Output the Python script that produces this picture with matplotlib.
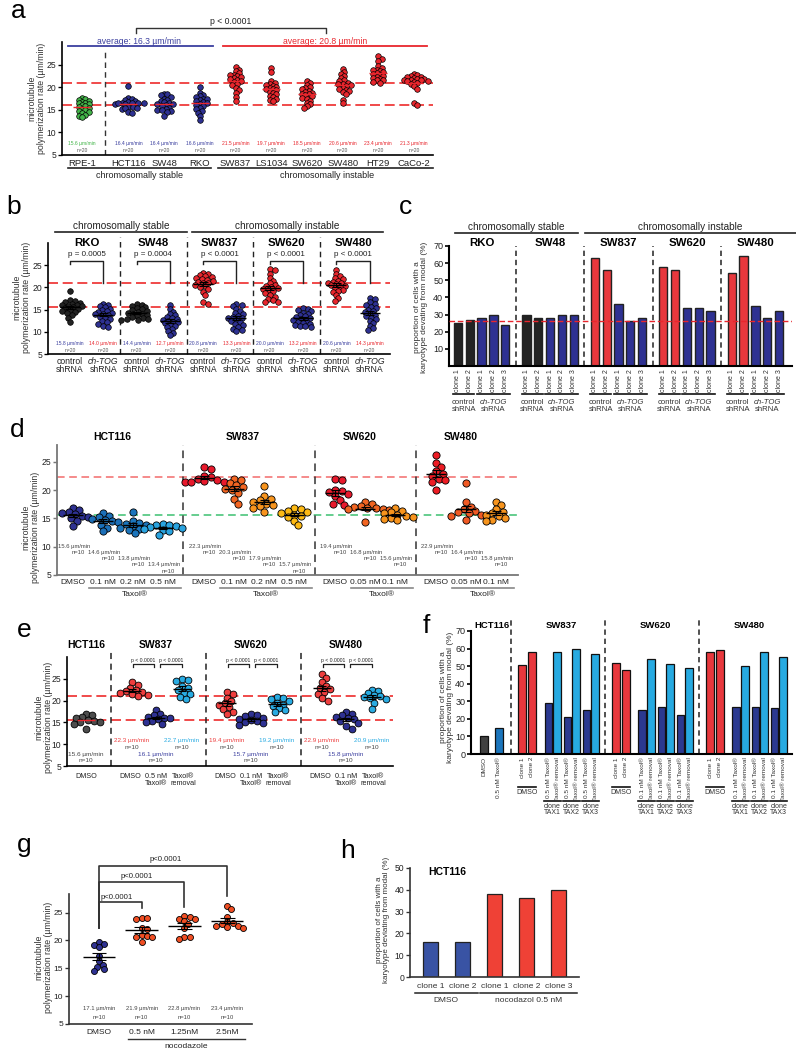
import numpy as np
import matplotlib
matplotlib.use('Agg')
import matplotlib.pyplot as plt
from matplotlib.transforms import Affine2D, blended_transform_factory

plt.rcParams['font.family'] = ['Liberation Sans', 'DejaVu Sans']

# ======================= DATA =======================
# panel a
a_lines = ['RPE-1', 'HCT116', 'SW48', 'RKO', 'SW837', 'LS1034', 'SW620', 'SW480', 'HT29', 'CaCo-2']
a_means = [15.6, 16.4, 16.4, 16.6, 21.5, 19.7, 18.5, 20.6, 23.4, 21.3]
a_rpe1 = [17.7, 17.4, 17.2, 17.0, 16.8, 16.6, 16.4, 16.2, 16.0, 15.8, 15.6, 15.4, 15.2, 15.0, 14.8, 14.5, 14.2, 13.9, 13.6, 13.3]
a_hct116 = [20.2, 17.6, 17.3, 17.1, 16.9, 16.8, 16.6, 16.5, 16.4, 16.3, 16.2, 16.5, 16.4, 15.7, 15.6, 15.4, 15.2, 15.5, 14.6, 14.3]
a_sw48 = [18.6, 18.4, 18.2, 17.9, 17.5, 17.2, 16.9, 16.7, 16.5, 16.3, 16.2, 16.0, 15.8, 15.5, 15.2, 14.9, 15.0, 14.8, 14.5, 13.7]
a_rko = [20.0, 18.8, 18.3, 18.0, 17.8, 17.5, 17.3, 17.1, 16.9, 16.7, 16.5, 16.3, 16.1, 15.8, 15.5, 15.2, 14.8, 14.3, 13.6, 12.7]
a_sw837 = [24.4, 23.9, 23.5, 23.1, 22.8, 22.6, 22.4, 22.2, 22.0, 21.8, 21.6, 21.4, 21.1, 20.8, 20.4, 19.9, 19.3, 18.7, 17.8, 16.9]
a_ls1034 = [24.2, 23.3, 21.4, 21.0, 20.7, 20.5, 20.3, 20.1, 19.9, 19.7, 19.5, 19.3, 19.0, 18.7, 18.4, 18.1, 17.8, 17.5, 17.2, 17.0]
a_sw620 = [21.3, 20.9, 20.5, 20.1, 19.8, 19.5, 19.2, 19.0, 18.8, 18.6, 18.4, 18.2, 18.0, 17.7, 17.4, 17.0, 16.6, 16.2, 15.8, 15.5]
a_sw480 = [24.0, 23.3, 22.9, 22.4, 22.0, 21.6, 21.3, 21.0, 20.8, 20.6, 20.4, 20.2, 19.9, 19.6, 19.4, 19.2, 19.0, 18.6, 17.2, 16.4]
a_ht29 = [26.8, 26.2, 25.9, 24.6, 24.2, 23.9, 23.7, 23.5, 23.3, 23.1, 22.9, 22.7, 22.5, 22.3, 22.1, 21.9, 21.7, 21.5, 21.2, 20.9]
a_caco2 = [22.9, 22.7, 22.5, 22.3, 22.2, 22.0, 21.9, 21.8, 21.7, 21.6, 21.5, 21.4, 21.3, 21.1, 20.9, 20.6, 20.2, 19.6, 16.4, 16.1]

# panel b
b_titles = ['RKO', 'SW48', 'SW837', 'SW620', 'SW480']
b_pvals = ['p = 0.0005', 'p = 0.0004', 'p < 0.0001', 'p < 0.0001', 'p < 0.0001']
b_means = [15.8, 14.0, 14.4, 12.7, 20.8, 13.3, 20.0, 13.2, 20.6, 14.3]
b_rko_ctrl = [19.3, 17.1, 16.9, 16.7, 16.5, 16.3, 16.1, 16.0, 15.8, 15.7, 15.5, 15.3, 15.1, 14.9, 14.7, 14.5, 14.2, 13.8, 13.2, 12.2]
b_rko_tog = [16.3, 16.1, 15.8, 15.5, 15.2, 15.0, 14.7, 14.5, 14.3, 14.1, 13.9, 13.7, 13.4, 13.1, 12.8, 12.5, 12.2, 11.8, 11.4, 11.0]
b_sw48_ctrl = [16.3, 16.1, 15.9, 15.6, 15.3, 15.1, 14.9, 14.7, 14.5, 14.3, 14.1, 13.9, 13.7, 13.5, 13.3, 13.1, 12.9, 12.8, 12.7, 12.6]
b_sw48_tog = [16.0, 15.1, 14.5, 14.0, 13.7, 13.4, 13.1, 12.9, 12.7, 12.5, 12.3, 12.1, 11.9, 11.6, 11.3, 11.0, 10.6, 10.1, 9.8, 9.3]
b_sw837_ctrl = [23.3, 23.0, 22.7, 22.5, 22.3, 22.1, 21.9, 21.7, 21.5, 21.3, 21.1, 20.9, 20.6, 20.3, 20.0, 19.6, 19.0, 18.2, 16.6, 16.2]
b_sw837_tog = [16.3, 16.1, 15.8, 15.2, 14.6, 14.2, 13.9, 13.6, 13.4, 13.2, 13.0, 12.7, 12.4, 12.1, 11.8, 11.5, 11.1, 10.7, 10.4, 10.1]
b_sw620_ctrl = [24.2, 24.0, 23.1, 22.1, 21.5, 21.0, 20.6, 20.3, 20.1, 19.9, 19.7, 19.4, 19.1, 18.7, 18.3, 17.9, 17.5, 17.1, 16.8, 16.7]
b_sw620_tog = [15.3, 15.1, 14.9, 14.6, 14.3, 14.0, 13.8, 13.5, 13.3, 13.1, 12.9, 12.7, 12.5, 12.3, 12.0, 11.8, 11.6, 11.4, 11.2, 11.0]
b_sw480_ctrl = [24.0, 23.0, 22.5, 22.1, 21.8, 21.5, 21.3, 21.1, 20.9, 20.7, 20.5, 20.3, 20.1, 19.8, 19.5, 19.2, 18.9, 18.4, 17.6, 16.9]
b_sw480_tog = [17.7, 17.3, 16.7, 16.3, 16.0, 15.6, 15.3, 15.0, 14.7, 14.4, 14.1, 13.8, 13.5, 13.2, 12.8, 12.4, 11.9, 11.4, 10.9, 10.5]

# panel c
c_titles = ['RKO', 'SW48', 'SW837', 'SW620', 'SW480']
c_control = [[25, 27], [30, 28], [63, 56], [58, 56], [54, 64]]
c_chtog = [[28, 30, 24], [28, 30, 30], [36, 26, 28], [34, 34, 32], [35, 28, 32]]

# panel d
d_titles = ['HCT116', 'SW837', 'SW620', 'SW480']
d_conds = [['DMSO', '0.1 nM', '0.2 nM', '0.5 nM'], ['DMSO', '0.1 nM', '0.2 nM', '0.5 nM'],
           ['DMSO', '0.05 nM', '0.1 nM'], ['DMSO', '0.05 nM', '0.1 nM']]
d_means = [[15.6, 14.6, 13.8, 13.4], [22.3, 20.3, 17.9, 15.7], [19.4, 16.8, 15.6], [22.9, 16.4, 15.8]]
d_hct116 = [[16.9, 16.5, 16.2, 16.0, 15.8, 15.5, 15.3, 15.1, 14.6, 13.7],
            [16.0, 15.5, 15.2, 14.9, 14.7, 14.5, 14.3, 13.9, 13.4, 12.7],
            [16.2, 14.6, 14.2, 14.0, 13.8, 13.6, 13.4, 13.2, 12.9, 12.5],
            [14.0, 13.9, 13.8, 13.6, 13.5, 13.4, 13.2, 13.0, 12.8, 12.1]]
d_sw837 = [[24.1, 23.7, 22.6, 22.3, 22.0, 21.8, 21.6, 21.4, 21.4, 21.4],
           [22.0, 21.8, 21.2, 20.9, 20.6, 20.3, 20.1, 19.5, 18.5, 17.6],
           [20.7, 18.9, 18.5, 18.2, 17.9, 17.6, 17.4, 17.2, 16.9, 16.1],
           [16.8, 16.6, 16.4, 16.1, 16.0, 15.7, 15.5, 15.3, 14.5, 13.8]]
d_sw620 = [[22.0, 21.8, 20.1, 19.8, 19.6, 19.3, 19.0, 18.2, 17.6, 17.3],
           [17.9, 17.6, 17.2, 17.0, 16.9, 16.8, 16.7, 16.6, 16.5, 14.4],
           [16.8, 16.4, 16.1, 15.9, 15.7, 15.5, 15.3, 15.1, 14.9, 14.7]]
d_sw480 = [[26.3, 24.8, 24.1, 23.4, 22.8, 22.6, 22.0, 21.8, 21.4, 20.1],
           [21.3, 17.9, 17.0, 16.6, 16.3, 16.1, 15.9, 15.7, 15.5, 14.7],
           [18.0, 17.3, 16.6, 16.2, 15.9, 15.7, 15.4, 15.1, 14.8, 14.5]]

# panel e
e_titles = ['HCT116', 'SW837', 'SW620', 'SW480']
e_hct116_dmso = [17.0, 16.6, 16.2, 15.9, 15.6, 15.4, 15.2, 15.0, 14.6, 13.6]
e_sw837 = [[24.2, 23.6, 23.0, 22.4, 22.1, 21.9, 21.7, 21.5, 21.2, 21.0],
           [17.8, 17.0, 16.6, 16.3, 16.1, 15.9, 15.7, 15.4, 15.1, 14.6],
           [25.0, 24.8, 24.5, 23.4, 22.8, 22.4, 21.8, 21.4, 20.9, 20.3]]
e_sw620 = [[22.0, 21.6, 20.6, 19.8, 19.4, 19.1, 18.6, 18.0, 17.5, 17.0],
           [16.9, 16.6, 16.4, 16.1, 15.8, 15.5, 15.3, 15.0, 14.8, 14.5],
           [20.8, 20.6, 20.3, 19.9, 19.5, 19.1, 18.7, 18.2, 17.8, 17.3]]
e_sw480 = [[26.2, 25.1, 24.2, 23.4, 23.0, 22.6, 22.0, 21.4, 20.5, 19.9],
           [17.4, 16.9, 16.6, 16.3, 16.0, 15.7, 15.4, 14.9, 14.2, 13.5],
           [22.5, 22.2, 21.7, 21.3, 21.0, 20.8, 20.5, 20.3, 19.5, 18.1]]
e_means = [[22.3, 16.1, 22.7], [19.4, 15.7, 19.2], [22.9, 15.8, 20.9]]
e_doses = ['0.5 nM', '0.1 nM', '0.1 nM']

# panel f
f_titles = ['HCT116', 'SW837', 'SW620', 'SW480']
f_hct116 = [10, 15]
f_clones = [[50.5, 58], [52, 48], [58, 59]]
f_taxol = [[29, 21, 25], [25, 27, 22], [27, 27, 26]]
f_removal = [[58, 59.5, 57], [54, 51, 49], [50, 58, 55]]
f_doses = ['0.5 nM', '0.1 nM', '0.1 nM']

# panel g
g_conds = ['DMSO', '0.5 nM', '1.25nM', '2.5nM']
g_means = [17.1, 21.9, 22.8, 23.4]
g_dmso = [19.7, 19.3, 19.2, 18.8, 17.3, 16.3, 15.6, 15.3, 14.8, 14.6]
g_05 = [24.1, 24.0, 23.9, 22.2, 22.0, 21.0, 20.8, 20.7, 20.6, 19.7]
g_125 = [24.4, 24.2, 23.9, 23.8, 23.5, 22.9, 22.3, 20.7, 20.6, 20.2]
g_25 = [26.2, 25.6, 24.3, 23.3, 23.1, 23.0, 22.6, 22.6, 22.4, 22.3]

# panel h
h_labels = ['clone 1', 'clone 2', 'clone 1', 'clone 2', 'clone 3']
h_values = [16, 16, 38, 36, 40]

# ======================= STYLE =======================
GREEN = '#43b549'
NAVY = '#2e3192'
RED = '#e8262d'
BLK = '#232323'
TXTBLUE = '#3b3f9f'
GREYTXT = '#444444'
UM = 'µm/min'

W, H = 796, 1050
fig = plt.figure(figsize=(W / 100, H / 100), dpi=100)
PX = Affine2D().scale(1, -1).translate(0, H)


def add_ax(x0, y0, x1, y1):
    return fig.add_axes([x0 / W, 1 - y1 / H, (x1 - x0) / W, (y1 - y0) / H])


def bt(ax):
    return blended_transform_factory(ax.transData, PX)


def style(ax, ticks, lw=1.1, color='black', labelsize=6.2):
    for s in ('top', 'right'):
        ax.spines[s].set_visible(False)
    for s in ('left', 'bottom'):
        ax.spines[s].set_linewidth(lw)
        ax.spines[s].set_color(color)
    ax.set_xticks([])
    ax.set_yticks(ticks)
    ax.tick_params(axis='y', length=3, width=lw * 0.8, color=color, labelsize=labelsize,
                   pad=1.2, labelcolor='#222')
    ax.patch.set_alpha(0)


def swarm(ax, xc, vals, color, d_px, elw=0.6, overlap=0.78):
    vals = np.asarray(vals, float)
    T = ax.transData
    placed = []
    xs = np.full(len(vals), float(xc))
    step = d_px * 0.3
    for i in np.argsort(vals)[::-1]:
        px, py = T.transform((xc, vals[i]))
        k = 0
        while True:
            off = ((k + 1) // 2) * step * (1 if k % 2 else -1)
            if all((px + off - qx) ** 2 + (py - qy) ** 2 >= (overlap * d_px) ** 2 for qx, qy in placed):
                break
            k += 1
        placed.append((px + off, py))
        xs[i] = T.inverted().transform((px + off, py))[0]
    ax.scatter(xs, vals, s=(d_px * 0.72) ** 2, c=color, edgecolors='black', linewidths=elw,
               zorder=3, clip_on=False)


def mean_sem(ax, xc, vals, hw, color='black', lw=1.0, sem=True):
    v = np.asarray(vals, float)
    m = v.mean()
    se = v.std(ddof=1) / np.sqrt(len(v))
    ax.hlines(m, xc - hw, xc + hw, colors=color, lw=lw, zorder=5)
    if sem:
        ax.hlines([m - se, m + se], xc - hw * 0.45, xc + hw * 0.45, colors=color, lw=lw * 0.8, zorder=5)
        ax.vlines(xc, m - se, m + se, colors=color, lw=lw * 0.8, zorder=5)


def ptext(x, y, s, **kw):
    fig.text(x, y, s, transform=PX, **kw)


def letter(x, y, s):
    ptext(x, y, s, fontsize=19, va='baseline', ha='left')


# ======================= PANEL a =======================
letter(11, 18, 'a')
axa = add_ax(62, 42, 433, 155)
a_x = np.arange(10) + 0.3 * (np.arange(10) >= 1)
axa.set_xlim(-0.56, 9.83)
axa.set_ylim(5, 30)
style(axa, [5, 10, 15, 20, 25], lw=1.2)
for y in (21, 16.1):
    axa.axhline(y, color='#ee2b2b', lw=1.2, dashes=(6, 2.8), zorder=2)
axa.vlines(0.65, 5, 28, colors='#333', lw=1.0, linestyles=(0, (4, 3)))
a_groups = [a_rpe1, a_hct116, a_sw48, a_rko, a_sw837, a_ls1034, a_sw620, a_sw480, a_ht29, a_caco2]
a_cols = [GREEN] + [NAVY] * 3 + [RED] * 6
a_tcols = [GREEN] + [TXTBLUE] * 3 + [RED] * 6
for x, v, c, tc, m, name in zip(a_x, a_groups, a_cols, a_tcols, a_means, a_lines):
    swarm(axa, x, v, c, 5.6, elw=0.5, overlap=0.62)
    mean_sem(axa, x, v, 0.25, color='#e8262d', lw=1.0, sem=False)
    axa.text(x, 7.6, f'{m} {UM}', color=tc, fontsize=3.6, ha='center', va='center')
    axa.text(x, 6.0, 'n=20', color='#555', fontsize=3.6, ha='center', va='center')
    axa.text(x, 163, name, transform=bt(axa), fontsize=6.8, ha='center', va='center', color='#222')
T = bt(axa)
axa.plot([-0.39, 3.61], [168, 168], transform=T, clip_on=False, color='#222', lw=1.2)
axa.plot([3.81, 9.83], [168, 168], transform=T, clip_on=False, color='#222', lw=1.2)
axa.text(1.6, 176, 'chromosomally stable', transform=T, fontsize=6.5, ha='center', va='center', color='#222')
axa.text(6.85, 176, 'chromosomally instable', transform=T, fontsize=6.5, ha='center', va='center', color='#222')
axa.plot([-0.39, 3.67], [46, 46], transform=T, clip_on=False, color='#3b3f9f', lw=1.3)
axa.plot([3.95, 9.66], [46, 46], transform=T, clip_on=False, color='#e8262d', lw=1.3)
axa.text(1.6, 41, f'average: 16.3 {UM}', transform=T, fontsize=6.2, ha='center', va='center', color='#3b3f9f')
axa.text(6.8, 41, f'average: 20.8 {UM}', transform=T, fontsize=6.2, ha='center', va='center', color='#e8262d')
axa.plot([1.51, 1.51, 6.83, 6.83], [33, 28, 28, 33], transform=T, clip_on=False, color='#333', lw=1.0)
axa.text(4.17, 22, 'p < 0.0001', transform=T, fontsize=6.2, ha='center', va='center', color='#222')
ptext(37, 98, 'microtubule\npolymerization rate (µm/min)', rotation=90, ha='center', va='center',
      fontsize=6.3, color='#333', linespacing=1.05)

# ======================= PANEL b =======================
letter(6, 214, 'b')
axb = add_ax(48, 243, 390, 354)
axb.set_xlim(-0.66, 9.61)
axb.set_ylim(5, 30)
style(axb, [5, 10, 15, 20, 25], lw=1.2)
for y in (21, 15.5):
    axb.axhline(y, color='#ee2b2b', lw=1.2, dashes=(6, 2.8), zorder=2)
b_groups = [b_rko_ctrl, b_rko_tog, b_sw48_ctrl, b_sw48_tog, b_sw837_ctrl, b_sw837_tog,
            b_sw620_ctrl, b_sw620_tog, b_sw480_ctrl, b_sw480_tog]
b_cols = [BLK, NAVY, BLK, NAVY, RED, NAVY, RED, NAVY, RED, NAVY]
Tb = bt(axb)
for i, (v, c, m) in enumerate(zip(b_groups, b_cols, b_means)):
    swarm(axb, i, v, c, 5.6, elw=0.5, overlap=0.68)
    mean_sem(axb, i, v, 0.3, color='black', lw=1.0)
    axb.text(i, 7.4, f'{m} {UM}', color=(TXTBLUE if i % 2 == 0 else RED), fontsize=3.6,
             ha='center', va='center')
    axb.text(i, 5.8, 'n=20', color='#555', fontsize=3.6, ha='center', va='center')
    if i % 2 == 0:
        axb.text(i, 361, 'control', transform=Tb, fontsize=6.2, ha='center', va='center', color='#222')
    else:
        axb.text(i, 361, 'ch-TOG', transform=Tb, fontsize=6.2, ha='center', va='center', color='#222',
                 style='italic')
    axb.text(i, 370, 'shRNA', transform=Tb, fontsize=6.2, ha='center', va='center', color='#222')
for k, (t, p) in enumerate(zip(b_titles, b_pvals)):
    c0 = 2 * k
    axb.text(c0 + 0.5, 243, t, transform=Tb, fontsize=8.2, fontweight='bold', ha='center', va='center')
    axb.text(c0 + 0.5, 255, p, transform=Tb, fontsize=5.8, ha='center', va='center', color='#222')
    axb.plot([c0, c0, c0 + 1, c0 + 1], [25.2, 25.9, 25.9, 21.0], color='#222', lw=1.0, clip_on=False)
    if k > 0:
        axb.plot([c0 - 0.5, c0 - 0.5], [5, 31.4], color='#222', lw=1.0, ls=(0, (4, 3)), clip_on=False)
axb.plot([-0.45, 3.51], [232, 232], transform=Tb, clip_on=False, color='#222', lw=1.2)
axb.plot([3.66, 9.4], [232, 232], transform=Tb, clip_on=False, color='#222', lw=1.2)
axb.text(1.53, 226, 'chromosomally stable', transform=Tb, fontsize=7.2, ha='center', va='center', color='#222')
axb.text(6.53, 226, 'chromosomally instable', transform=Tb, fontsize=7.2, ha='center', va='center', color='#222')
ptext(22, 297, 'microtubule\npolymerization rate (µm/min)', rotation=90, ha='center', va='center',
      fontsize=6.3, color='#333', linespacing=1.05)

# ======================= PANEL c =======================
letter(399, 214, 'c')
axc = add_ax(449, 246, 792, 366)
axc.set_xlim(-0.76, 28.3)
axc.set_ylim(0, 70)
style(axc, [10, 20, 30, 40, 50, 60, 70], lw=1.5, labelsize=6.5)
Tc = bt(axc)
for k in range(5):
    g = k * 5.8
    xs_ctrl = g + np.arange(2)
    xs_tog = g + 2 + np.arange(3)
    axc.bar(xs_ctrl, c_control[k], width=0.7, color=(BLK if k < 2 else '#e8383d'), edgecolor='#222',
            lw=1.0, zorder=2)
    axc.bar(xs_tog, c_chtog[k], width=0.7, color=NAVY, edgecolor='#222', lw=1.0, zorder=2)
    for x, lab in zip(list(xs_ctrl) + list(xs_tog), ['clone 1', 'clone 2', 'clone 1', 'clone 2', 'clone 3']):
        axc.text(x, 369, lab, transform=Tc, rotation=90, fontsize=5.0, ha='center', va='top', color='#333')
    axc.plot([g - 0.4, g + 1.4], [394, 394], transform=Tc, clip_on=False, color='#111', lw=1.2)
    axc.plot([g + 1.6, g + 4.4], [394, 394], transform=Tc, clip_on=False, color='#111', lw=1.2)
    axc.text(g + 0.5, 402, 'control', transform=Tc, fontsize=5.6, ha='center', va='center', color='#333')
    axc.text(g + 0.5, 409.5, 'shRNA', transform=Tc, fontsize=5.6, ha='center', va='center', color='#333')
    axc.text(g + 3, 402, 'ch-TOG', transform=Tc, fontsize=5.6, ha='center', va='center', color='#333',
             style='italic')
    axc.text(g + 3, 409.5, 'shRNA', transform=Tc, fontsize=5.6, ha='center', va='center', color='#333')
    axc.text(g + 2, 243, c_titles[k], transform=Tc, fontsize=8.2, fontweight='bold', ha='center', va='center')
    if k > 0:
        axc.plot([g - 0.9, g - 0.9], [0, 70], color='#222', lw=1.1, ls=(0, (3.5, 2.5)), clip_on=False)
axc.axhline(26, color='#e8262d', lw=1.0, dashes=(4, 2), zorder=3)
axc.plot([-0.25, 10.2], [233, 233], transform=Tc, clip_on=False, color='#222', lw=1.2)
axc.plot([10.8, 28.6], [233, 233], transform=Tc, clip_on=False, color='#222', lw=1.2)
axc.text(4.97, 227, 'chromosomally stable', transform=Tc, fontsize=7.2, ha='center', va='center', color='#222')
axc.text(19.7, 227, 'chromosomally instable', transform=Tc, fontsize=7.2, ha='center', va='center', color='#222')
ptext(421, 307, 'proportion of cells with a\nkaryotype devating from modal (%)', rotation=90, ha='center',
      va='center', fontsize=6.0, color='#333', linespacing=1.05)

# ======================= PANEL d =======================
letter(10, 437, 'd')
axd = add_ax(57, 445, 518, 575)
axd.set_xlim(-0.53, 14.83)
axd.set_ylim(5, 28)
style(axd, [5, 10, 15, 20, 25], lw=1.3, color='#777', labelsize=6.2)
axd.axhline(22.3, color='#f26b6b', lw=1.1, dashes=(5, 3), zorder=2)
axd.axhline(15.6, color='#3cc070', lw=1.1, dashes=(5, 3), zorder=2)
Td = bt(axd)
d_vals = [d_hct116, d_sw837, d_sw620, d_sw480]
d_cols = [[NAVY, '#1b6fb8', '#1b75bc', '#29a3df'],
          ['#e8192c', '#f26522', '#f7941d', '#fdb913'],
          ['#e8192c', '#f26522', '#f7941d'],
          ['#ed1c24', '#f15a24', '#f7941d']]
start = 0.0
for k in range(4):
    n = len(d_conds[k])
    xs = start + np.arange(n)
    for i in range(n):
        swarm(axd, xs[i], d_vals[k][i], d_cols[k][i], 7.2, elw=0.6)
        mean_sem(axd, xs[i], d_vals[k][i], 0.33, color='black', lw=1.0)
        axd.text(xs[i] + 0.03, 10.1 - 1.1 * i, f'{d_means[k][i]} {UM}', fontsize=4.2, ha='center',
                 va='center', color=GREYTXT)
        axd.text(xs[i] + 0.17, 9.0 - 1.1 * i, 'n=10', fontsize=4.2, ha='center', va='center', color=GREYTXT)
        axd.text(xs[i], 582, d_conds[k][i], transform=Td, fontsize=6.0, ha='center', va='center', color='#222')
    axd.plot([xs[1] - 0.47, xs[-1] + 0.6], [588, 588], transform=Td, clip_on=False, color='#888', lw=1.2)
    axd.text((xs[1] + xs[-1]) / 2 + 0.05, 594, 'Taxol®', transform=Td, fontsize=6.0, ha='center',
             va='center', color='#222')
    axd.text(xs.mean() - 0.2, 437, d_titles[k], transform=Td, fontsize=7.5, fontweight='bold',
             ha='center', va='center')
    if k < 3:
        axd.plot([xs[-1] + 0.68] * 2, [5, 28], color='#333', lw=1.1, ls=(0, (5, 3.5)), clip_on=False)
    start = xs[-1] + 1.37
ptext(31, 527, 'microtubule\npolymerization rate (µm/min)', rotation=90, ha='center', va='center',
      fontsize=6.3, color='#333', linespacing=1.05)

# ======================= PANEL e =======================
letter(17, 637, 'e')
axe = add_ax(67, 657, 393, 766)
axe.set_xlim(-0.76, 12.28)
axe.set_ylim(5, 30)
style(axe, [5, 10, 15, 20, 25], lw=1.2)
for y in (21, 15.6):
    axe.axhline(y, color='#ee2b2b', lw=1.2, dashes=(6, 2.8), zorder=2)
Te = bt(axe)
swarm(axe, 0, e_hct116_dmso, '#4d4d4d', 6.8)
mean_sem(axe, 0, e_hct116_dmso, 0.35, color='#e8262d', lw=1.0, sem=False)
axe.text(0, 7.6, f'15.6 {UM}', fontsize=4.6, ha='center', va='center', color=GREYTXT)
axe.text(0, 6.2, 'n=10', fontsize=4.6, ha='center', va='center', color=GREYTXT)
axe.text(0, 777, 'DMSO', transform=Te, fontsize=5.2, ha='center', va='center', color='#222')
axe.text(0, 645, e_titles[0], transform=Te, fontsize=7.5, fontweight='bold', ha='center', va='center')
e_vals = [e_sw837, e_sw620, e_sw480]
e_cols = ['#ee3e3e', NAVY, '#29abe2']
e_tcols = ['#ee3e3e', TXTBLUE, '#29abe2']
for k in range(3):
    s0 = 1.84 + 3.8 * k
    xs = s0 + np.array([0, 0.95, 2.0])
    for i in range(3):
        swarm(axe, xs[i], e_vals[k][i], e_cols[i], 6.8)
        mean_sem(axe, xs[i], e_vals[k][i], 0.35, color='black', lw=1.0)
        ym = 10.8 if i != 1 else 7.6
        axe.text(xs[i], ym, f'{e_means[k][i]} {UM}', fontsize=4.6, ha='center', va='center', color=e_tcols[i])
        axe.text(xs[i], ym - 1.45, 'n=10', fontsize=4.6, ha='center', va='center', color=GREYTXT)
    axe.text(xs[0] - 0.08, 777, 'DMSO', transform=Te, fontsize=5.2, ha='center', va='center', color='#222')
    axe.text(xs[1] + 0.02, 777, e_doses[k], transform=Te, fontsize=5.2, ha='center', va='center', color='#222')
    axe.text(xs[1] + 0.02, 783.5, 'Taxol®', transform=Te, fontsize=5.2, ha='center', va='center', color='#222')
    axe.text(xs[2] + 0.05, 777, 'Taxol®', transform=Te, fontsize=5.2, ha='center', va='center', color='#222')
    axe.text(xs[2] + 0.05, 783.5, 'removal', transform=Te, fontsize=5.2, ha='center', va='center', color='#222')
    axe.plot([xs[0] + 0.05, xs[0] + 0.05, xs[1] - 0.08, xs[1] - 0.08], [27.6, 28.3, 28.3, 27.6],
             color='#222', lw=0.9, clip_on=False)
    axe.plot([xs[1] + 0.18, xs[1] + 0.18, xs[2], xs[2]], [27.6, 28.3, 28.3, 27.6],
             color='#222', lw=0.9, clip_on=False)
    axe.text((xs[0] + xs[1]) / 2 - 0.02, 29.3, 'p < 0.0001', fontsize=3.7, ha='center', va='center',
             color='#222')
    axe.text((xs[1] + xs[2]) / 2 + 0.1, 29.3, 'p < 0.0001', fontsize=3.7, ha='center', va='center',
             color='#222')
    axe.plot([s0 - 0.85] * 2, [5, 31.6], color='#222', lw=1.1, ls=(0, (4, 3)), clip_on=False)
    axe.text(xs[1], 645, e_titles[k + 1], transform=Te, fontsize=7.5, fontweight='bold', ha='center',
             va='center')
ptext(44, 717, 'microtubule\npolymerization rate (µm/min)', rotation=90, ha='center', va='center',
      fontsize=6.3, color='#333', linespacing=1.05)

# ======================= PANEL f =======================
letter(423, 633, 'f')
axf = add_ax(471, 631, 792, 754)
axf.set_xlim(-1.4, 33.1)
axf.set_ylim(0, 70)
style(axf, [0, 10, 20, 30, 40, 50, 60, 70], lw=1.5, labelsize=6.5)
Tf = bt(axf)
axf.bar([0, 1.6], f_hct116, width=0.8, color=['#404040', '#1b75bc'], edgecolor='#111', lw=0.9, zorder=2)
axf.text(0, 757, 'DMSO', transform=Tf, rotation=90, fontsize=4.6, ha='center', va='top', color='#333')
axf.text(1.6, 757, '0.5 nM Taxol®', transform=Tf, rotation=90, fontsize=4.6, ha='center', va='top',
         color='#333')
axf.text(0.86, 625, f_titles[0], transform=Tf, fontsize=6.8, fontweight='bold', ha='center', va='center')
for k in range(3):
    g = 4.1 + 10.1 * k
    cx = g + np.array([0, 1.05])
    axf.bar(cx, f_clones[k], width=0.8, color='#e8383d', edgecolor='#111', lw=0.9, zorder=2)
    for x, lab in zip(cx, ['clone 1', 'clone 2']):
        axf.text(x, 757, lab, transform=Tf, rotation=90, fontsize=4.6, ha='center', va='top', color='#333')
    axf.plot([g - 0.4, g + 1.45], [787, 787], transform=Tf, clip_on=False, color='#111', lw=1.2)
    axf.text(g + 0.52, 792.5, 'DMSO', transform=Tf, fontsize=5.0, ha='center', va='center', color='#333')
    for j in range(3):
        p0 = g + 2.8 + 2.05 * j
        axf.bar(p0, f_taxol[k][j], width=0.8, color='#2b3990', edgecolor='#111', lw=0.9, zorder=2)
        axf.bar(p0 + 0.95, f_removal[k][j], width=0.8, color='#27aae1', edgecolor='#111', lw=0.9, zorder=2)
        axf.text(p0, 757, f'{f_doses[k]} Taxol®', transform=Tf, rotation=90, fontsize=4.6, ha='center',
                 va='top', color='#333')
        axf.text(p0 + 0.95, 757, 'Taxol® removal', transform=Tf, rotation=90, fontsize=4.6, ha='center',
                 va='top', color='#333')
        axf.plot([p0 - 0.45, p0 + 1.4], [800.7, 800.7], transform=Tf, clip_on=False, color='#111', lw=1.2)
        axf.text(p0 + 0.47, 806, 'clone', transform=Tf, fontsize=5.0, ha='center', va='center', color='#333')
        axf.text(p0 + 0.47, 812.5, f'TAX{j + 1}', transform=Tf, fontsize=5.0, ha='center', va='center',
                 color='#333')
    axf.plot([g - 1.2] * 2, [0, 76], color='#222', lw=1.1, ls=(0, (3.5, 2.5)), clip_on=False)
    axf.text(g + 4.2, 625, f_titles[k + 1], transform=Tf, fontsize=6.8, fontweight='bold', ha='center',
             va='center')
ptext(447, 697, 'proportion of cells with a\nkaryotype devating from modal (%)', rotation=90, ha='center',
      va='center', fontsize=6.0, color='#333', linespacing=1.05)

# ======================= PANEL g =======================
letter(17, 852, 'g')
axg = add_ax(69, 894, 252, 1024)
axg.set_xlim(-0.7, 3.58)
axg.set_ylim(5, 28.35)
style(axg, [5, 10, 15, 20, 25], lw=1.2, color='#333', labelsize=6.0)
Tg = bt(axg)
g_vals = [g_dmso, g_05, g_125, g_25]
g_cols = [NAVY, '#f04e23', '#f04e23', '#f04e23']
for i in range(4):
    swarm(axg, i, g_vals[i], g_cols[i], 6.0)
    mean_sem(axg, i, g_vals[i], 0.38, color='black', lw=1.0)
    axg.text(i, 7.7, f'{g_means[i]} {UM}', fontsize=4.2, ha='center', va='center', color=GREYTXT)
    axg.text(i, 6.1, 'n=10', fontsize=4.2, ha='center', va='center', color=GREYTXT)
    axg.text(i, 1032, g_conds[i], transform=Tg, fontsize=6.0, ha='center', va='center', color='#222')
axg.plot([0.68, 3.42], [1039, 1039], transform=Tg, clip_on=False, color='#333', lw=1.0)
axg.text(2.05, 1047, 'nocodazole', transform=Tg, fontsize=6.0, ha='center', va='center', color='#222')
for (xr, top, yr, ty, tx) in [(1, 27.0, 25.85, 27.8, 0.42), (2, 30.55, 26.1, 31.45, 0.89),
                              (3, 33.4, 28.0, 34.6, 1.57)]:
    axg.plot([0, 0, xr, xr], [22.2, top, top, yr], color='#333', lw=1.2, clip_on=False)
    axg.text(tx, ty, 'p<0.0001', fontsize=5.6, ha='center', va='center', color='#222')
ptext(44, 957, 'microtubule\npolymerization rate (µm/min)', rotation=90, ha='center', va='center',
      fontsize=6.3, color='#333', linespacing=1.05)

# ======================= PANEL h =======================
letter(340, 858, 'h')
axh = add_ax(410, 867.7, 579, 977.3)
axh.set_xlim(-0.64, 4.64)
axh.set_ylim(0, 50)
style(axh, [0, 10, 20, 30, 40, 50], lw=1.2, color='#333', labelsize=6.2)
Th = bt(axh)
hx = np.arange(5)
axh.bar(hx, h_values, width=0.45, color=['#3953a4'] * 2 + ['#ef4136'] * 3, edgecolor='#222', lw=0.9,
        zorder=2)
for x, lab in zip(hx, h_labels):
    axh.text(x, 986.7, lab, transform=Th, fontsize=6.0, ha='center', va='center', color='#333')
axh.plot([-0.48, 1.47], [993, 993], transform=Th, clip_on=False, color='#222', lw=1.1)
axh.plot([1.55, 4.58], [993, 993], transform=Th, clip_on=False, color='#222', lw=1.1)
axh.text(0.48, 1000, 'DMSO', transform=Th, fontsize=6.0, ha='center', va='center', color='#333')
axh.text(3.06, 1000, 'nocodazol 0.5 nM', transform=Th, fontsize=6.0, ha='center', va='center', color='#333')
axh.text(0.53, 872, 'HCT116', transform=Th, fontsize=7.5, fontweight='bold', ha='center', va='center')
ptext(383, 920, 'proportion of cells with a\nkaryotype deviating from modal (%)', rotation=90, ha='center',
      va='center', fontsize=5.8, color='#333', linespacing=1.05)

fig.savefig('out.png', dpi=100)
